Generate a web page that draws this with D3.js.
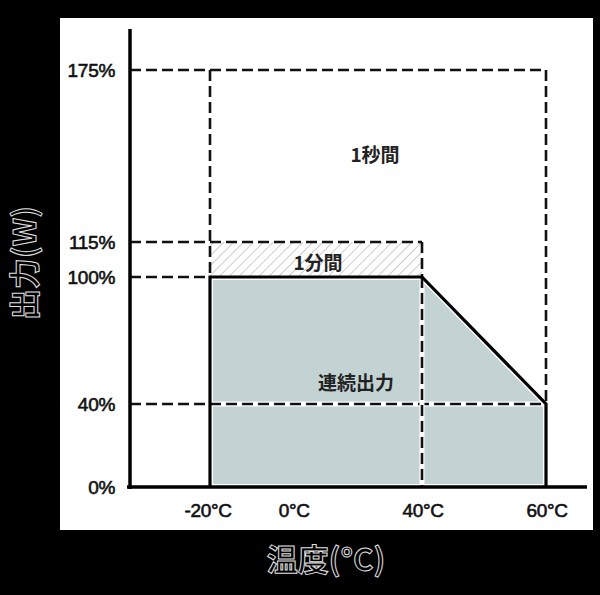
<!DOCTYPE html>
<html><head><meta charset="utf-8">
<script src="https://cdn.jsdelivr.net/npm/d3@7"></script>
<style>html,body{margin:0;padding:0;background:#000;}svg{display:block;}</style>
</head><body>
<svg id="c" width="600" height="595"></svg>
<script>
// ---- data ----
const yTicks = [0, 40, 100, 115, 175];          // % output
const yTickLabels = ["0%", "40%", "100%", "115%", "175%"];
const xTicks = [-20, 0, 40, 60];                 // temperature °C
const xTickLabels = ["-20°C", "0°C", "40°C", "60°C"];
const continuousTemps = [-20, 40, 60];          // derating curve points
const continuousOutput = [100, 100, 40];
const oneMinTemps = [-20, 40];
const oneMinOutput = 115;
const oneSecTemps = [-20, 60];
const oneSecOutput = 175;
const regionLabels = ["1秒間", "1分間", "連続出力"];
const axisTitles = ["出力(W)", "温度(°C)"];

// ---- scales (axis drawn non-uniformly, as in the original diagram) ----
const x = d3.scaleLinear().domain([-20, 0, 40, 60]).range([210, 288, 422, 546]);
const y = d3.scaleLinear().domain([0, 40, 100, 115, 175]).range([487, 404, 277, 242, 70]);
const x0 = 130; // y-axis position

const svg = d3.select("#c");
svg.append("rect").attr("width", 600).attr("height", 595).attr("fill", "#000");
svg.append("rect").attr("x", 60).attr("y", 18).attr("width", 533).attr("height", 512).attr("fill", "#fff");

const defs = svg.append("defs");
const pat = defs.append("pattern").attr("id", "hatch").attr("patternUnits", "userSpaceOnUse")
  .attr("width", 7).attr("height", 7).attr("patternTransform", "rotate(45)");
pat.append("line").attr("x1", 0).attr("y1", 0).attr("x2", 0).attr("y2", 7)
  .attr("stroke", "#9a9a9a").attr("stroke-width", 1);

// continuous output area
const area = [[-20, 0], [-20, 100], [40, 100], [60, 40], [60, 0]];
svg.append("path")
  .attr("d", d3.line().x(d => x(d[0])).y(d => y(d[1]))(area) + "Z")
  .attr("fill", "#c3d3d3").attr("stroke", "#fff").attr("stroke-width", 6);

// 1 minute hatch
svg.append("rect")
  .attr("x", x(oneMinTemps[0])).attr("y", y(oneMinOutput))
  .attr("width", x(oneMinTemps[1]) - x(oneMinTemps[0]))
  .attr("height", y(100) - y(oneMinOutput))
  .attr("fill", "url(#hatch)");

const dash = "11,5";
function dline(x1, y1, x2, y2, halo) {
  if (halo) {
    svg.append("line").attr("x1", x1).attr("y1", y1).attr("x2", x2).attr("y2", y2)
      .attr("stroke", "#fff").attr("stroke-width", 5);
  }
  svg.append("line").attr("x1", x1).attr("y1", y1).attr("x2", x2).attr("y2", y2)
    .attr("stroke", "#111").attr("stroke-width", 2.6).attr("stroke-dasharray", dash);
}
// horizontal dashed guides
dline(x0, y(oneSecOutput), x(oneSecTemps[1]), y(oneSecOutput));
dline(x0, y(oneMinOutput), x(oneMinTemps[1]), y(oneMinOutput));
dline(x0, y(100), x(-20), y(100));
dline(x0, y(40), x(-20), y(40));
dline(x(-20), y(40), x(60), y(40), true);
// vertical dashed guides
dline(x(-20), y(oneSecOutput), x(-20), y(100));
dline(x(60), y(oneSecOutput), x(60), y(40));
dline(x(40), y(oneMinOutput), x(40), y(100));
dline(x(40), y(100), x(40), y(0), true);

// solid derating curve
const curve = [[-20, 0]].concat(continuousTemps.map((t, i) => [t, continuousOutput[i]])).concat([[60, 0]]);
svg.append("path")
  .attr("d", d3.line().x(d => x(d[0])).y(d => y(d[1]))(curve))
  .attr("fill", "none").attr("stroke", "#000").attr("stroke-width", 3.2).attr("stroke-linejoin", "miter");

// axes
svg.append("line").attr("x1", x0).attr("y1", 29).attr("x2", x0).attr("y2", y(0) + 2)
  .attr("stroke", "#000").attr("stroke-width", 3.5);
svg.append("line").attr("x1", x0 - 3).attr("y1", y(0)).attr("x2", 587).attr("y2", y(0))
  .attr("stroke", "#000").attr("stroke-width", 3.5);

const tickFont = "'Liberation Sans', Arial, sans-serif";
// y tick labels
svg.append("g").selectAll("text").data(yTicks).join("text")
  .attr("x", 115).attr("y", d => y(d)).attr("dy", "0.36em")
  .attr("text-anchor", "end").attr("font-family", tickFont).attr("font-size", 19)
  .attr("letter-spacing", -0.3)
  .attr("fill", "#111").attr("stroke", "#111").attr("stroke-width", 0.6)
  .text((d, i) => yTickLabels[i]);

// x tick labels: number ends at the guide, the ° sits on it
svg.append("g").selectAll("text").data(xTicks).join("text")
  .attr("x", d => x(d)).attr("y", 517)
  .attr("text-anchor", "start").attr("font-family", tickFont).attr("font-size", 19)
  .attr("letter-spacing", -0.3)
  .attr("fill", "#111").attr("stroke", "#111").attr("stroke-width", 0.6)
  .text((d, i) => xTickLabels[i])
  .each(function(d, i) {
    const n = xTickLabels[i].indexOf("°");
    const w = this.getSubStringLength(0, n);
    d3.select(this).attr("x", x(d) - w + 1);
  });

// region labels
const cjk = "'Noto Sans CJK JP', 'Noto Sans', sans-serif";
svg.append("g").selectAll("text").data(regionLabels).join("text")
  .attr("x", (d, i) => i === 0 ? 375 : i === 1 ? 318 : 356)
  .attr("y", (d, i) => i === 0 ? 155 : i === 1 ? 263 : 383)
  .attr("dy", "0.35em").attr("text-anchor", "middle")
  .attr("font-family", cjk).attr("font-size", 19).attr("font-weight", "bold")
  .attr("fill", "#222")
  .text(d => d);

// axis titles (outlined text)
svg.append("text")
  .attr("transform", "translate(25,263) rotate(-90)")
  .attr("text-anchor", "middle").attr("dy", "0.35em")
  .attr("font-family", cjk).attr("font-size", 31).attr("font-weight", "bold")
  .attr("fill", "#000").attr("stroke", "#e0e0e0").attr("stroke-width", 1)
  .text(axisTitles[0]);
svg.append("text")
  .attr("x", 326).attr("y", 560).attr("dy", "0.35em")
  .attr("text-anchor", "middle")
  .attr("font-family", cjk).attr("font-size", 31).attr("font-weight", "bold")
  .attr("fill", "#000").attr("stroke", "#e0e0e0").attr("stroke-width", 1)
  .text(axisTitles[1]);
</script>
</body></html>
